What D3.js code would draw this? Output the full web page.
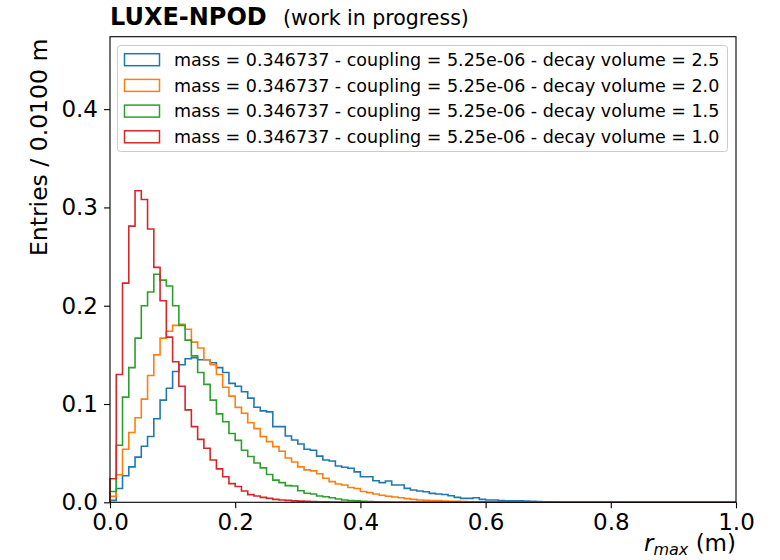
<!DOCTYPE html>
<html>
<head>
<meta charset="utf-8">
<script src="https://cdn.jsdelivr.net/npm/d3@7"></script>
<style>
  body { margin: 0; background: #fff; }
  svg { font-family: "DejaVu Sans", sans-serif; }
</style>
</head>
<body>
<div id="chart"></div>
<script>
// bin width of the histograms (m)
const binWidth = 0.01;

// per-bin entries, starting at r = 0 (tail beyond the listed bins is empty)
const vol25 = [0.002, 0.014, 0.027, 0.036, 0.046, 0.057, 0.067, 0.085, 0.104, 0.116,
    0.133, 0.140, 0.146, 0.147, 0.145, 0.145, 0.142, 0.137, 0.132, 0.121,
    0.118, 0.1125, 0.106, 0.0967, 0.093, 0.092, 0.077, 0.077, 0.0675, 0.0634,
    0.0593, 0.054, 0.053, 0.047, 0.043, 0.042, 0.037, 0.0356, 0.0346, 0.031,
    0.026, 0.026, 0.022, 0.020, 0.0217, 0.0176, 0.0176, 0.0142, 0.0125, 0.0115,
    0.0108, 0.0091, 0.0085, 0.008, 0.0067, 0.005, 0.004, 0.004, 0.0047, 0.003,
    0.0023, 0.0023, 0.0017, 0.0016, 0.0016, 0.0016, 0.0013, 0.001, 0.0008, 0.0005,
    0.0003, 0.0002];
const vol20 = [0.006, 0.028, 0.054, 0.071, 0.086, 0.105, 0.129, 0.150, 0.167, 0.174,
    0.180, 0.181, 0.176, 0.163, 0.157, 0.145, 0.140, 0.130, 0.117, 0.108,
    0.0966, 0.0906, 0.081, 0.075, 0.0668, 0.0617, 0.0566, 0.052, 0.045, 0.041,
    0.036, 0.033, 0.032, 0.029, 0.0244, 0.021, 0.0186, 0.0176, 0.015, 0.014,
    0.011, 0.0098, 0.0085, 0.0071, 0.0061, 0.0054, 0.0047, 0.0037, 0.003, 0.0024,
    0.002, 0.0017, 0.0017, 0.0013, 0.001, 0.001, 0.0008, 0.0005, 0.0003, 0.0002];
const vol15 = [0.011, 0.058, 0.107, 0.137, 0.167, 0.200, 0.214, 0.232, 0.226, 0.220,
    0.200, 0.180, 0.165, 0.149, 0.132, 0.120, 0.104, 0.090, 0.082, 0.070,
    0.063, 0.053, 0.0466, 0.040, 0.035, 0.0283, 0.0226, 0.020, 0.017, 0.0166,
    0.0118, 0.0092, 0.0085, 0.0064, 0.0057, 0.0047, 0.0034, 0.0024, 0.0017, 0.0014,
    0.001, 0.0008, 0.0005, 0.0003, 0.0002];
const vol10 = [0.024, 0.130, 0.223, 0.281, 0.317, 0.308, 0.278, 0.239, 0.205, 0.168,
    0.143, 0.118, 0.094, 0.077, 0.064, 0.055, 0.043, 0.034, 0.026, 0.019,
    0.016, 0.0115, 0.0078, 0.0064, 0.005, 0.004, 0.003, 0.0024, 0.002, 0.0015,
    0.0012, 0.001, 0.0008, 0.0006, 0.0004, 0.0003, 0.0002, 0.0001];

const seriesLabels = [
    "mass = 0.346737 - coupling = 5.25e-06 - decay volume = 2.5",
    "mass = 0.346737 - coupling = 5.25e-06 - decay volume = 2.0",
    "mass = 0.346737 - coupling = 5.25e-06 - decay volume = 1.5",
    "mass = 0.346737 - coupling = 5.25e-06 - decay volume = 1.0"
];
const seriesValues = [vol25, vol20, vol15, vol10];
const colors = ["#1f77b4", "#ff7f0e", "#2ca02c", "#d62728"];

const xTicks = [0, 0.2, 0.4, 0.6, 0.8, 1.0];
const yTicks = [0, 0.1, 0.2, 0.3, 0.4];

const W = 780, H = 560;
const margin = {top: 36.7, right: 44, bottom: 57.7, left: 110};
const width = W - margin.left - margin.right;
const height = H - margin.top - margin.bottom;

const svg = d3.select("#chart").append("svg")
    .attr("width", W)
    .attr("height", H);

const g = svg.append("g")
    .attr("transform", `translate(${margin.left},${margin.top})`);

const x = d3.scaleLinear().domain([0, 1]).range([0, width]);
const y = d3.scaleLinear().domain([0, 0.4737]).range([height, 0]);

// histogram step lines
const line = d3.line()
    .x(d => x(d[0]))
    .y(d => y(d[1]))
    .curve(d3.curveStepAfter);

seriesValues.forEach((vals, k) => {
    const pts = [[0, 0]];
    vals.forEach((v, i) => pts.push([i * binWidth, v]));
    pts.push([vals.length * binWidth, 0]);
    pts.push([1, 0]);
    g.append("path")
        .attr("d", line(pts))
        .attr("fill", "none")
        .attr("stroke", colors[k])
        .attr("stroke-width", 1.6)
        .attr("stroke-linejoin", "miter");
});

// axes
const xAxis = g.append("g")
    .attr("transform", `translate(0,${height})`)
    .call(d3.axisBottom(x).tickValues(xTicks).tickFormat(d3.format(".1f")).tickSize(6).tickPadding(5));
const yAxis = g.append("g")
    .call(d3.axisLeft(y).tickValues(yTicks).tickFormat(d3.format(".1f")).tickSize(6).tickPadding(6));

[xAxis, yAxis].forEach(a => {
    a.select(".domain").remove();
    a.selectAll(".tick line").attr("stroke", "#000").attr("stroke-width", 1.1);
    a.selectAll(".tick text")
        .attr("fill", "#000")
        .style("font-family", "DejaVu Sans")
        .style("font-size", "23px");
});

// frame
g.append("rect")
    .attr("width", width)
    .attr("height", height)
    .attr("fill", "none")
    .attr("stroke", "#000")
    .attr("stroke-width", 1.1);

// axis labels
svg.append("text")
    .attr("transform", `translate(47,${margin.top + 2}) rotate(-90)`)
    .attr("text-anchor", "end")
    .style("font-size", "23.5px")
    .text("Entries / 0.0100 m");

const xl = svg.append("text")
    .attr("x", margin.left + width)
    .attr("y", 551)
    .attr("text-anchor", "end")
    .style("font-size", "23px");
xl.append("tspan").style("font-style", "italic").text("r");
xl.append("tspan").style("font-style", "italic").style("font-size", "16px").attr("dy", 4).text("max");
xl.append("tspan").attr("dy", -4).text(" (m)");

// title
svg.append("text")
    .attr("x", 110)
    .attr("y", 25)
    .style("font-size", "24px")
    .style("font-weight", "bold")
    .text("LUXE-NPOD");
svg.append("text")
    .attr("x", 283)
    .attr("y", 25)
    .style("font-size", "20.5px")
    .text("(work in progress)");

// legend
const legend = svg.append("g");
legend.append("rect")
    .attr("x", 117.5)
    .attr("y", 45.5)
    .attr("width", 610)
    .attr("height", 106)
    .attr("rx", 3)
    .attr("fill", "#fff")
    .attr("fill-opacity", 0.8)
    .attr("stroke", "#cccccc")
    .attr("stroke-width", 1);

seriesLabels.forEach((lab, i) => {
    const cy = 59.7 + i * 25.7;
    legend.append("rect")
        .attr("x", 124.5)
        .attr("y", cy - 6)
        .attr("width", 35)
        .attr("height", 12)
        .attr("fill", "none")
        .attr("stroke", colors[i])
        .attr("stroke-width", 1.5);
    legend.append("text")
        .attr("x", 174)
        .attr("y", cy + 6.3)
        .style("font-size", "17.5px")
        .text(lab);
});
</script>
</body>
</html>
